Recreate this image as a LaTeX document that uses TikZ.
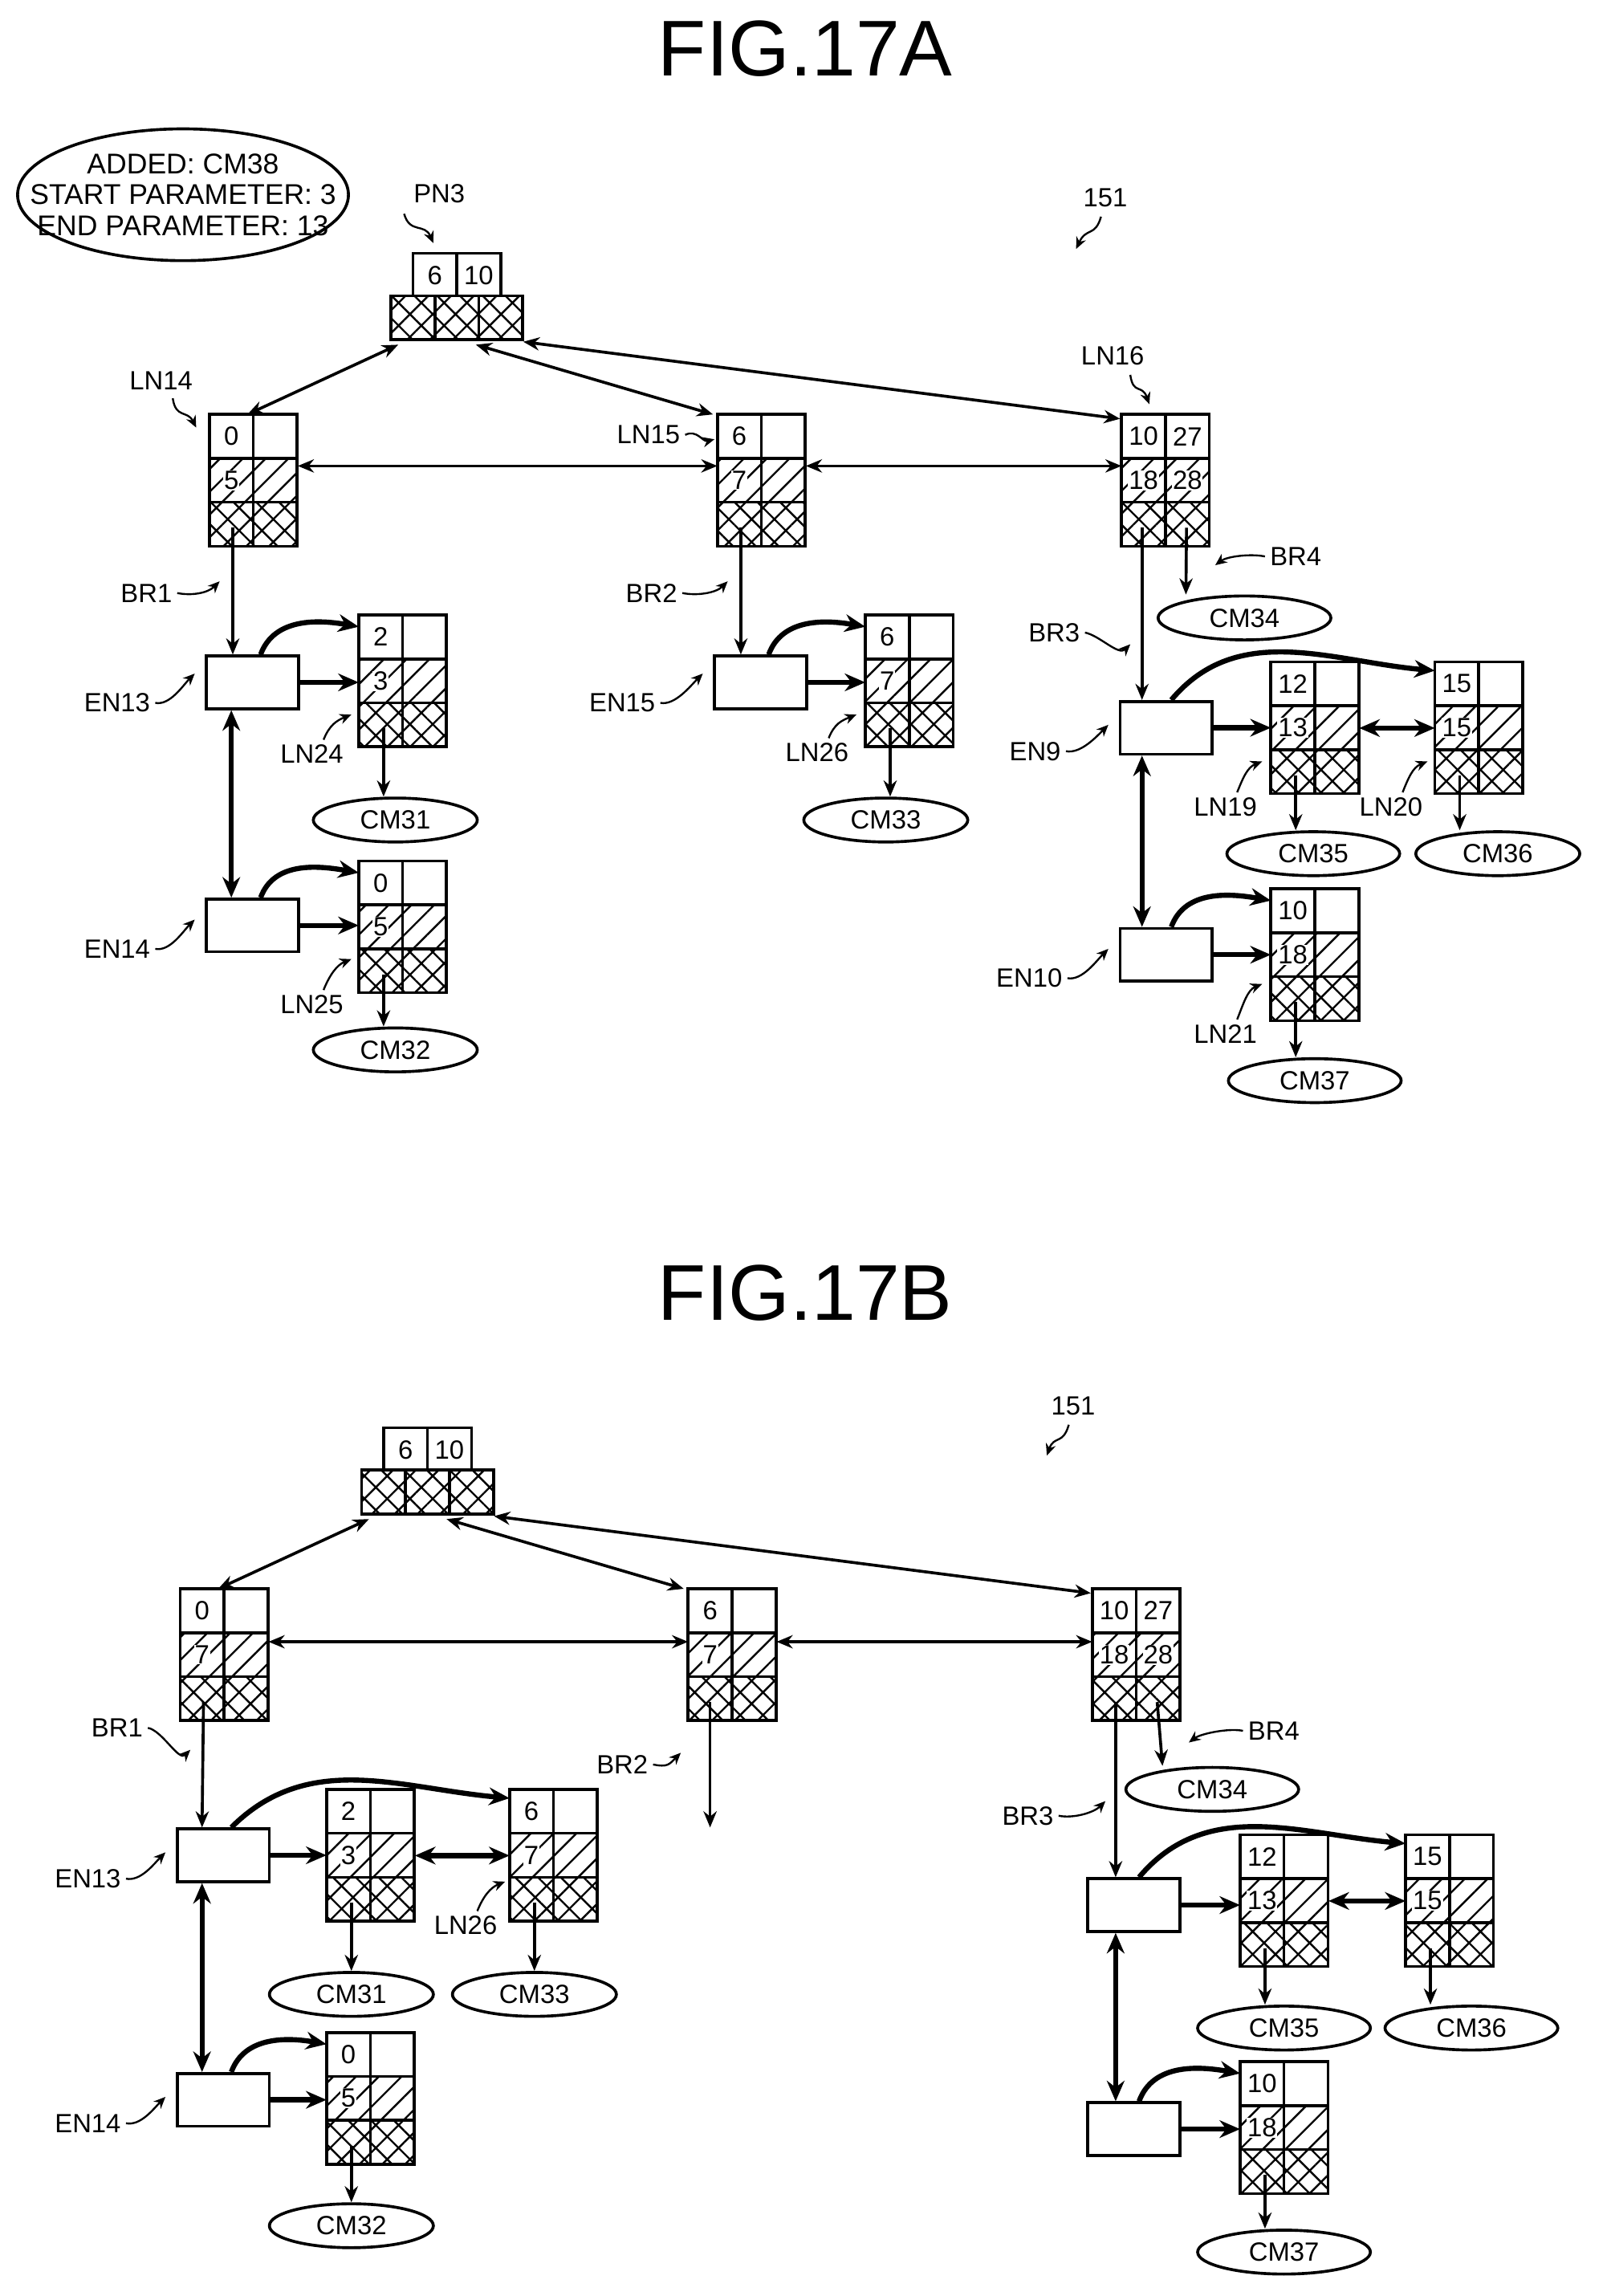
\documentclass[tikz,border=0pt]{standalone}
\usepackage{fontspec}
\setmainfont{Liberation Sans}
\usetikzlibrary{patterns.meta,arrows.meta,shapes.geometric}
\begin{document}
\begin{tikzpicture}[x=1pt,y=-1pt,
  font=\fontsize{18}{21}\selectfont,
  box/.style={line width=2pt},
  arr/.style={line width=2pt,-{Stealth[length=11pt,width=9pt]}},
  darr/.style={line width=2pt,{Stealth[length=11pt,width=9pt]}-{Stealth[length=11pt,width=9pt]}},
  tarr/.style={line width=3.5pt,-{Stealth[length=14pt,width=12pt]}},
  tdarr/.style={line width=3.5pt,{Stealth[length=14pt,width=12pt]}-{Stealth[length=14pt,width=12pt]}},
  lead/.style={line width=1.3pt,-{Stealth[length=8pt,width=7pt]}},
  cmell/.style={ellipse,draw,line width=2pt,minimum width=112pt,minimum height=30pt,inner sep=0pt},
  en/.style={draw,line width=2pt,minimum width=63pt,minimum height=36pt,inner sep=0pt,anchor=north west},
  num/.style={fill=white,inner sep=0.5pt,font=\fontsize{18}{20}\selectfont},
  title/.style={font=\fontsize{54}{60}\selectfont}]
\useasboundingbox (0,0) rectangle (1100,1568);
\newcommand\LN[7]{%
 \fill[pattern={Lines[angle=45,distance=11pt,line width=1.3pt]}] (#2,#3+30) rectangle (#2+60,#3+60);
 \fill[pattern={Hatch[angle=45,distance=11pt,line width=1.3pt]}] (#2,#3+60) rectangle (#2+60,#3+90);
 \draw[box] (#2,#3) rectangle (#2+60,#3+90) (#2,#3+30)--(#2+60,#3+30) (#2,#3+60)--(#2+60,#3+60) (#2+30,#3)--(#2+30,#3+90);
 \node[num] at (#2+15,#3+15) {#4};
 \node[num] at (#2+45,#3+15) {#5};
 \node[num] at (#2+15,#3+45) {#6};
 \ifx\relax#7\relax\else\node[num] at (#2+45,#3+45) {#7};\fi
 \node[minimum width=60pt,minimum height=90pt,inner sep=0pt,anchor=north west] (#1) at (#2,#3) {};}
\newcommand\PN[3]{%
 \fill[pattern={Hatch[angle=45,distance=11pt,line width=1.3pt]}] (#2-15,#3+29) rectangle (#2+75,#3+59);
 \draw[box] (#2,#3) rectangle (#2+60,#3+29) (#2+30,#3)--(#2+30,#3+29);
 \draw[box] (#2-15,#3+29) rectangle (#2+75,#3+59) (#2+15,#3+29)--(#2+15,#3+59) (#2+45,#3+29)--(#2+45,#3+59);
 \node[num] at (#2+15,#3+15) {6}; \node[num] at (#2+45,#3+15) {10};
 \node[minimum width=90pt,minimum height=30pt,inner sep=0pt,anchor=north west] (#1) at (#2-15,#3+29) {};}

% ================= FIG 17A =================
\node[title] (tA) at (550,33) {FIG.17A};
\node[inner sep=0pt,align=center,font=\fontsize{19.5}{21}\selectfont] (info) at (125,133) {ADDED: CM38\\START PARAMETER: 3\\END PARAMETER: 13};
\draw[line width=2pt] (info.center) ellipse [x radius=113, y radius=45];
\PN{PNa}{282}{173}
\LN{LNa14}{143}{283}{0}{}{5}{}
\LN{LNa15}{490}{283}{6}{}{7}{}
\LN{LNa16}{766}{283}{10}{27}{18}{28}
\LN{LNa24}{245}{420}{2}{}{3}{}
\LN{LNa25}{245}{588}{0}{}{5}{}
\LN{LNa26}{591}{420}{6}{}{7}{}
\LN{LNa19}{868}{452}{12}{}{13}{}
\LN{LNa20}{980}{452}{15}{}{15}{}
\LN{LNa21}{868}{607}{10}{}{18}{}
\node[en] (ENa13) at (140,447) {};
\node[en] (ENa14) at (140,613) {};
\node[en] (ENa15) at (487,447) {};
\node[en] (ENa9) at (764,478) {};
\node[en] (ENa10) at (764,633) {};
\node[cmell] (CMa31) at (270,560) {CM31};
\node[cmell] (CMa32) at (270,717) {CM32};
\node[cmell] (CMa33) at (605,560) {CM33};
\node[cmell,minimum width=118pt] (CMa34) at (850,422) {CM34};
\node[cmell,minimum width=118pt] (CMa35) at (897,583) {CM35};
\node[cmell] (CMa36) at (1023,583) {CM36};
\node[cmell,minimum width=118pt] (CMa37) at (898,738) {CM37};
% tree arrows
\draw[darr] ([xshift=5pt,yshift=-3pt]PNa.south west) -- ([xshift=26pt]LNa14.north west);
\draw[darr] ([xshift=58pt,yshift=-3pt]PNa.south west) -- ([xshift=-3pt]LNa15.north west);
\draw[darr] ([yshift=-1pt]PNa.south east) -- ([xshift=-1pt,yshift=-3pt]LNa16.north west);
\draw[darr] ([yshift=10pt]LNa14.east) -- ([yshift=10pt]LNa15.west);
\draw[darr] ([yshift=10pt]LNa15.east) -- ([yshift=10pt]LNa16.west);
\draw[arr] ([xshift=16pt,yshift=13pt]LNa14.south west) -- ([xshift=19pt]ENa13.north west);
\draw[arr] ([xshift=16pt,yshift=13pt]LNa15.south west) -- ([xshift=19pt]ENa15.north west);
\draw[arr] ([xshift=14pt,yshift=13pt]LNa16.south west) -- ([xshift=16pt]ENa9.north west);
\draw[arr] ([xshift=-16pt,yshift=13pt]LNa16.south east) -- ([xshift=-40pt]CMa34.north);
\draw[tarr] ([xshift=38pt]ENa13.north west) to[out=70,in=170] ([yshift=-8pt]LNa24.north west);
\draw[tarr] (ENa13.east) -- (ENa13.east -| LNa24.west);
\draw[tarr] ([xshift=38pt]ENa14.north west) to[out=70,in=170] ([yshift=-8pt]LNa25.north west);
\draw[tarr] (ENa14.east) -- (ENa14.east -| LNa25.west);
\draw[tarr] ([xshift=38pt]ENa15.north west) to[out=70,in=170] ([yshift=-8pt]LNa26.north west);
\draw[tarr] (ENa15.east) -- (ENa15.east -| LNa26.west);
\draw[tarr] ([xshift=36pt]ENa9.north west) to[out=50,in=175] ([yshift=-6pt]LNa20.north west);
\draw[tarr] (ENa9.east) -- (ENa9.east -| LNa19.west);
\draw[tarr] ([xshift=36pt]ENa10.north west) to[out=70,in=170] ([yshift=-8pt]LNa21.north west);
\draw[tarr] (ENa10.east) -- (ENa10.east -| LNa21.west);
\draw[tdarr] (LNa19.east) -- (LNa20.west);
\draw[tdarr] ([xshift=18pt]ENa13.south west) -- ([xshift=18pt]ENa14.north west);
\draw[tdarr] ([xshift=16pt]ENa9.south west) -- ([xshift=16pt]ENa10.north west);
\foreach \a/\b in {LNa24/CMa31,LNa25/CMa32,LNa26/CMa33,LNa19/CMa35,LNa20/CMa36,LNa21/CMa37}
  \draw[arr] ([xshift=17pt,yshift=13pt]\a.south west) -- ([xshift=17pt]\a.south west |- \b.north);
% labels
\node (lPN3) at (300,132) {PN3};
\coordinate (tPN3) at (296,166); \draw[lead] (276,146) .. controls (280,160) and (290,152) .. (tPN3);
\node (l151a) at (755,135) {151};
\coordinate (t151a) at (735,170); \draw[lead] (752,148) .. controls (748,162) and (742,155) .. (t151a);
\node (lLN14) at (110,260) {LN14};
\coordinate (tLN14) at (134,292); \draw[lead] (118,272) .. controls (120,286) and (128,280) .. (tLN14);
\node[anchor=east] (lLN15) at (468,297) {LN15};
\coordinate (tLN15) at (488,300); \draw[lead] (lLN15.east) .. controls (476,293) and (480,302) .. (tLN15);
\node (lLN16) at (760,243) {LN16};
\coordinate (tLN16) at (785,276); \draw[lead] (772,256) .. controls (774,270) and (780,262) .. (tLN16);
\foreach \t/\x/\y/\tx/\ty in {BR1/100/405/150/397, BR2/445/405/497/397, BR3/720/432/772/440, EN13/80/480/133/460, EN15/425/480/480/460, EN9/707/513/757/495, EN14/80/648/133/628, EN10/703/668/757/648}{
  \node (la\t) at (\x,\y) {\t};
  \draw[lead] (la\t.east) .. controls +(10,2) and +(-8,8) .. (\tx,\ty);}
\node (laBR4) at (885,380) {BR4};
\draw[lead] (laBR4.west) .. controls +(-10,-2) and +(8,-6) .. (830,386);
\foreach \t/\x/\y/\tx/\ty in {LN24/213/515/240/488, LN26/558/514/585/488, LN19/837/551/862/520, LN20/950/551/975/520, LN25/213/686/240/655, LN21/837/706/862/672}{
  \node (lb\t) at (\x,\y) {\t};
  \draw[lead] ([xshift=8pt]lb\t.north) .. controls +(4,-10) and +(-10,4) .. (\tx,\ty);}

% ================= FIG 17B =================
\node[title] (tB) at (550,883) {FIG.17B};
\PN{PNb}{262}{975}
\LN{LNb1}{123}{1085}{0}{}{7}{}
\LN{LNb2}{470}{1085}{6}{}{7}{}
\LN{LNb3}{746}{1085}{10}{27}{18}{28}
\LN{LNb24}{223}{1222}{2}{}{3}{}
\LN{LNb26}{348}{1222}{6}{}{7}{}
\LN{LNb25}{223}{1388}{0}{}{5}{}
\LN{LNb19}{847}{1253}{12}{}{13}{}
\LN{LNb20}{960}{1253}{15}{}{15}{}
\LN{LNb21}{847}{1408}{10}{}{18}{}
\node[en] (ENb13) at (120,1248) {};
\node[en] (ENb14) at (120,1415) {};
\node[en] (ENb9) at (742,1282) {};
\node[en] (ENb10) at (742,1435) {};
\node[cmell] (CMb31) at (240,1362) {CM31};
\node[cmell] (CMb33) at (365,1362) {CM33};
\node[cmell] (CMb32) at (240,1520) {CM32};
\node[cmell,minimum width=118pt] (CMb34) at (828,1222) {CM34};
\node[cmell,minimum width=118pt] (CMb35) at (877,1385) {CM35};
\node[cmell,minimum width=118pt] (CMb36) at (1005,1385) {CM36};
\node[cmell,minimum width=118pt] (CMb37) at (877,1538) {CM37};
\coordinate (BR2end) at (485,1248);
\draw[darr] ([xshift=5pt,yshift=-3pt]PNb.south west) -- ([xshift=26pt]LNb1.north west);
\draw[darr] ([xshift=58pt,yshift=-3pt]PNb.south west) -- ([xshift=-3pt]LNb2.north west);
\draw[darr] ([yshift=-1pt]PNb.south east) -- ([xshift=-1pt,yshift=-3pt]LNb3.north west);
\draw[darr] ([yshift=9pt]LNb1.east) -- ([yshift=9pt]LNb2.west);
\draw[darr] ([yshift=9pt]LNb2.east) -- ([yshift=9pt]LNb3.west);
\draw[arr] ([xshift=16pt,yshift=13pt]LNb1.south west) -- ([xshift=18pt]ENb13.north west);
\draw[arr] ([xshift=15pt,yshift=13pt]LNb2.south west) -- (BR2end);
\draw[arr] ([xshift=16pt,yshift=13pt]LNb3.south west) -- ([xshift=20pt]ENb9.north west);
\draw[arr] ([xshift=-16pt,yshift=13pt]LNb3.south east) -- ([xshift=-34pt]CMb34.north);
\draw[tarr] ([xshift=38pt]ENb13.north west) to[out=45,in=175] ([yshift=-6pt]LNb26.north west);
\draw[tarr] (ENb13.east) -- (ENb13.east -| LNb24.west);
\draw[tdarr] (LNb24.east) -- (LNb26.west);
\draw[tarr] ([xshift=38pt]ENb14.north west) to[out=70,in=170] ([yshift=-8pt]LNb25.north west);
\draw[tarr] (ENb14.east) -- (ENb14.east -| LNb25.west);
\draw[tarr] ([xshift=36pt]ENb9.north west) to[out=50,in=175] ([yshift=-6pt]LNb20.north west);
\draw[tarr] (ENb9.east) -- (ENb9.east -| LNb19.west);
\draw[tdarr] (LNb19.east) -- (LNb20.west);
\draw[tarr] ([xshift=36pt]ENb10.north west) to[out=70,in=170] ([yshift=-8pt]LNb21.north west);
\draw[tarr] (ENb10.east) -- (ENb10.east -| LNb21.west);
\draw[tdarr] ([xshift=18pt]ENb13.south west) -- ([xshift=18pt]ENb14.north west);
\draw[tdarr] ([xshift=20pt]ENb9.south west) -- ([xshift=20pt]ENb10.north west);
\foreach \a/\b in {LNb24/CMb31,LNb26/CMb33,LNb25/CMb32,LNb19/CMb35,LNb20/CMb36,LNb21/CMb37}
  \draw[arr] ([xshift=17pt,yshift=13pt]\a.south west) -- ([xshift=17pt]\a.south west |- \b.north);
\node (l151b) at (733,960) {151};
\draw[lead] (730,973) .. controls (726,987) and (720,980) .. (715,994);
\foreach \t/\x/\y/\tx/\ty in {BR1/80/1180/130/1195, BR2/425/1205/465/1197, BR3/702/1240/755/1230, EN13/60/1283/113/1265, EN14/60/1450/113/1432}{
  \node (lc\t) at (\x,\y) {\t};
  \draw[lead] (lc\t.east) .. controls +(10,2) and +(-8,8) .. (\tx,\ty);}
\node (lcBR4) at (870,1182) {BR4};
\draw[lead] (lcBR4.west) .. controls +(-10,-2) and +(8,-6) .. (812,1190);
\node (lcLN26) at (318,1315) {LN26};
\draw[lead] ([xshift=8pt]lcLN26.north) .. controls +(4,-10) and +(-10,4) .. (345,1285);
\end{tikzpicture}
\end{document}
